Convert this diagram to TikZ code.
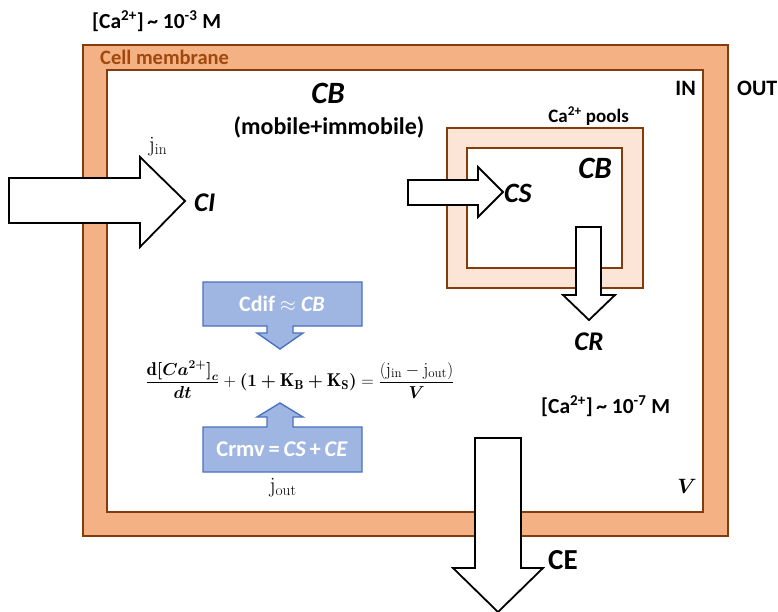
\documentclass[tikz,border=0pt]{standalone}
\usepackage{amsmath}
\usepackage{bm}
\usepackage{fontspec}
\newfontfamily\carlito{Carlito}
\definecolor{memfill}{HTML}{F4B183}
\definecolor{memline}{HTML}{843C0C}
\definecolor{memtext}{HTML}{A0480E}
\definecolor{poolfill}{HTML}{FBE5D6}
\definecolor{bluefill}{HTML}{9FB6E2}
\definecolor{blueline}{HTML}{4A72C0}
\tikzset{
  memb/.style={fill=memfill, draw=memline, line width=1.6pt},
  pool/.style={fill=poolfill, draw=memline, line width=1.6pt},
  inner/.style={fill=white, draw=memline, line width=1.6pt},
  flux/.style={fill=white, draw=black, line width=1.8pt, line join=miter},
  callout/.style={fill=bluefill, draw=blueline, line width=1.4pt},
  lbl/.style={font=\carlito\bfseries\fontsize{21}{24}\selectfont, inner sep=0pt},
  big/.style={font=\carlito\bfseries\itshape\fontsize{31}{34}\selectfont, inner sep=0pt},
  ser/.style={font=\fontsize{22}{26}\selectfont, inner sep=0pt}
}
\begin{document}
\begin{tikzpicture}[x=1pt,y=-1pt]
\useasboundingbox (0,0) rectangle (778,612);
% membrane
\draw[memb] (83,45) rectangle (728,536);
\draw[inner] (107,70) rectangle (703,512);
% pools
\draw[pool] (447,128) rectangle (643,288);
\draw[inner] (467,148) rectangle (622,268);
% texts
\node[lbl, anchor=west, font=\carlito\bfseries\fontsize{21.5}{24}\selectfont] (cext) at (92,21) {[Ca\textsuperscript{2+}]\,\textasciitilde\ 10\textsuperscript{-3} M};
\node[lbl, anchor=west, text=memtext, font=\carlito\bfseries\fontsize{20.5}{24}\selectfont] (cm) at (100,57) {Cell membrane};
\node[lbl, anchor=east, font=\carlito\bfseries\fontsize{22}{24}\selectfont] (in) at (696,88) {IN};
\node[lbl, anchor=west, font=\carlito\bfseries\fontsize{22}{24}\selectfont] (out) at (737,88) {OUT};
\node[big] (cb) at (328,93) {CB};
\node[lbl, font=\carlito\bfseries\fontsize{24}{26}\selectfont] (mob) at (329,127) {(mobile+immobile)};
\node[lbl, anchor=east, font=\carlito\bfseries\fontsize{19}{22}\selectfont] (pools) at (629,116) {Ca\textsuperscript{2+} pools};
\node[big, anchor=east] (cb2) at (612,168) {CB};
% CI arrow
\draw[flux] (9,178) -- (140,178) -- (140,157) -- (185,201) -- (140,247) -- (140,223) -- (9,223) -- cycle;
\node[big, anchor=west, font=\carlito\bfseries\itshape\fontsize{27}{30}\selectfont] (ci) at (194,203) {CI};
\node[ser] (jin) at (158,147) {$\mathrm{j_{in}}$};
% CS arrow
\draw[flux] (408,180) -- (478,180) -- (478,167) -- (503,192) -- (478,217) -- (478,205) -- (408,205) -- cycle;
\node[big, anchor=west, font=\carlito\bfseries\itshape\fontsize{28}{30}\selectfont] (cs) at (504,193) {CS};
% CR arrow
\draw[flux] (576,227) -- (601,227) -- (601,295) -- (615,295) -- (589,320) -- (563,295) -- (576,295) -- cycle;
\node[big, font=\carlito\bfseries\itshape\fontsize{27}{30}\selectfont] (cr) at (589,342) {CR};
% CE arrow
\draw[flux] (475,438) -- (521,438) -- (521,568) -- (543,568) -- (498,612) -- (453,568) -- (475,568) -- cycle;
\node[lbl, anchor=west, font=\carlito\bfseries\fontsize{29}{32}\selectfont] (ce) at (548,560) {CE};
% V and internal concentration
\node[ser, font=\fontsize{21}{24}\selectfont] (vol) at (687,486) {$\bm{V}$};
\node[lbl, anchor=west, font=\carlito\bfseries\fontsize{21.5}{24}\selectfont] (cint) at (541,406) {[Ca\textsuperscript{2+}]\,\textasciitilde\ 10\textsuperscript{-7} M};
% callouts
\draw[callout] (203,282) -- (362,282) -- (362,326) -- (293,326) -- (293,333) -- (303,333) -- (280,349) -- (257,333) -- (267,333) -- (267,326) -- (203,326) -- cycle;
\node[lbl, text=white, font=\carlito\bfseries\fontsize{22}{24}\selectfont] (cdif) at (282,304) {Cdif $\approx$ \textit{CB}};
\draw[callout] (203,427) -- (267,427) -- (267,417) -- (257,417) -- (280,403) -- (303,417) -- (293,417) -- (293,427) -- (362,427) -- (362,472) -- (203,472) -- cycle;
\node[lbl, text=white, font=\carlito\bfseries\fontsize{22.5}{24}\selectfont] (crmv) at (282,449) {Crmv\,=\,\textit{CS}\,+\,\textit{CE}};
% equation
\node[ser, font=\fontsize{18.5}{22}\selectfont] (eq) at (300,380) {$\dfrac{\mathbf{d}\bm{[}\bm{Ca^{2+}}\bm{]_{c}}}{\bm{dt}} + \bm{(1+\mathrm{K_B}+\mathrm{K_S})} = \dfrac{(\mathrm{j_{in}}-\mathrm{j_{out}})}{\bm{V}}$};
\node[ser] (jout) at (283,488) {$\mathrm{j_{out}}$};
\end{tikzpicture}
\end{document}
